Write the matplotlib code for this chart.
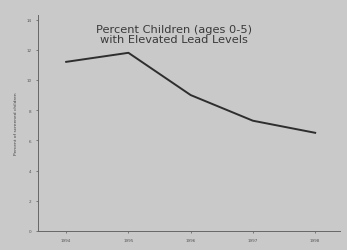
import matplotlib
matplotlib.use("Agg")
import matplotlib.pyplot as plt

years = [1994, 1995, 1996, 1997, 1998]
pct_elevated = [11.2, 11.8, 9.0, 7.3, 6.5]
y_ticks = [0, 2, 4, 6, 8, 10, 12, 14]

bg = "#c9c9c9"
ink = "#3a3a3a"

fig = plt.figure(figsize=(3.47, 2.51), dpi=100, facecolor=bg)
ax = fig.add_axes([0.11, 0.076, 0.87, 0.86], facecolor=bg)

ax.plot(years, pct_elevated, color="#2e2e2e", linewidth=1.4)

ax.set_xlim(1993.55, 1998.4)
ax.set_ylim(0, 14.3)
ax.set_xticks(years)
ax.set_yticks(y_ticks)
ax.tick_params(labelsize=3, colors="#555555", length=1.5, width=0.5)
ax.set_ylabel("Percent of screened children", fontsize=3.2, color="#444444", labelpad=6)

for s in ["top", "right"]:
    ax.spines[s].set_visible(False)
for s in ["left", "bottom"]:
    ax.spines[s].set_color("#666666")
    ax.spines[s].set_linewidth(0.7)

fig.text(0.5, 0.86, "Percent Children (ages 0-5)\nwith Elevated Lead Levels",
         ha="center", va="center", fontsize=8.2, color=ink, linespacing=1.05)

fig.savefig("out.png", dpi=100, facecolor=bg)
